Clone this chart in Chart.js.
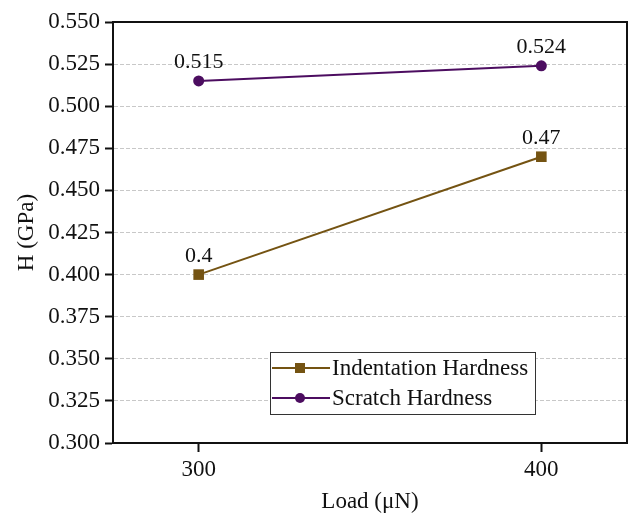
<!DOCTYPE html>
<html>
<head>
<meta charset="utf-8">
<script src="https://cdn.jsdelivr.net/npm/chart.js@4"></script>
<style>
  html, body { margin: 0; padding: 0; background: #fff; }
  #wrap { width: 631px; height: 516px; }
</style>
</head>
<body>
<div id="wrap"><canvas id="myChart" width="631" height="516"></canvas></div>
<script>
// data
var loads = [300, 400];
var indentation = [0.4, 0.47];
var scratch = [0.515, 0.524];
var xTicks = [300, 400];

var brown = '#745312';
var purple = '#4c0d60';
var serif = "'Liberation Serif', 'Times New Roman', serif";

function pts(ys) {
  return loads.map(function (x, i) { return { x: x, y: ys[i] }; });
}

// value labels above the points + frame + legend box
var extras = {
  id: 'extras',
  afterDatasetsDraw: function (chart) {
    var ctx = chart.ctx;
    var a = chart.chartArea;
    ctx.save();
    ctx.fillStyle = '#111';
    ctx.font = '22px ' + serif;
    ctx.textAlign = 'center';
    ctx.textBaseline = 'alphabetic';
    chart.data.datasets.forEach(function (ds, di) {
      chart.getDatasetMeta(di).data.forEach(function (el, i) {
        ctx.fillText(String(ds.data[i].y), el.x, el.y - 13);
      });
    });

    // frame top/right
    ctx.strokeStyle = '#111';
    ctx.lineWidth = 2;
    ctx.beginPath();
    ctx.moveTo(a.left, a.top);
    ctx.lineTo(a.right, a.top);
    ctx.lineTo(a.right, a.bottom);
    ctx.stroke();

    // legend
    var lx = a.left + 157, ly = a.top + 330, lw = 265, lh = 62;
    ctx.fillStyle = '#fff';
    ctx.fillRect(lx, ly, lw, lh);
    ctx.lineWidth = 1;
    ctx.strokeStyle = '#333';
    ctx.strokeRect(lx + 0.5, ly + 0.5, lw, lh);
    chart.data.datasets.forEach(function (ds, di) {
      var cy = ly + 16 + di * 30;
      ctx.strokeStyle = ds.borderColor;
      ctx.lineWidth = 2;
      ctx.beginPath();
      ctx.moveTo(lx + 2, cy);
      ctx.lineTo(lx + 60, cy);
      ctx.stroke();
      ctx.fillStyle = ds.backgroundColor;
      if (ds.pointStyle === 'rect') {
        ctx.fillRect(lx + 25, cy - 5, 10, 10);
      } else {
        ctx.beginPath();
        ctx.arc(lx + 30, cy, 5, 0, Math.PI * 2);
        ctx.fill();
      }
      ctx.fillStyle = '#111';
      ctx.font = '23px ' + serif;
      ctx.textAlign = 'left';
      ctx.textBaseline = 'middle';
      ctx.fillText(ds.label, lx + 62, cy + 1);
    });
    ctx.restore();
  }
};

new Chart(document.getElementById('myChart'), {
  type: 'line',
  data: {
    datasets: [
      {
        label: 'Indentation Hardness',
        data: pts(indentation),
        borderColor: brown,
        backgroundColor: brown,
        borderWidth: 2,
        pointStyle: 'rect',
        pointRadius: 7.5,
        pointBorderWidth: 0
      },
      {
        label: 'Scratch Hardness',
        data: pts(scratch),
        borderColor: purple,
        backgroundColor: purple,
        borderWidth: 2,
        pointStyle: 'circle',
        pointRadius: 5.5,
        pointBorderWidth: 0
      }
    ]
  },
  options: {
    responsive: false,
    animation: false,
    layout: { padding: { top: 22, right: 4, left: 0, bottom: 0 }, autoPadding: false },
    plugins: {
      legend: { display: false },
      tooltip: { enabled: false }
    },
    scales: {
      x: {
        type: 'linear',
        min: 275,
        max: 425,
        afterBuildTicks: function (s) {
          s.ticks = xTicks.map(function (v) { return { value: v }; });
        },
        afterFit: function (s) { s.height = 73; s.paddingLeft = 0; s.paddingRight = 0; },
        grid: {
          drawOnChartArea: false,
          drawTicks: true,
          tickLength: 9,
          tickColor: '#111',
          tickWidth: 2
        },
        border: { color: '#111', width: 2 },
        ticks: {
          color: '#111',
          font: { family: serif, size: 23 },
          padding: 4
        },
        title: {
          display: true,
          text: 'Load (\u03bcN)',
          color: '#111',
          font: { family: serif, size: 23 },
          padding: { top: 0, bottom: 0 }
        }
      },
      y: {
        min: 0.3,
        max: 0.55,
        afterBuildTicks: function (s) {
          var t = [];
          for (var i = 0; i <= 10; i++) t.push({ value: +(0.3 + i * 0.025).toFixed(3) });
          s.ticks = t;
        },
        afterFit: function (s) { s.width = 113; s.paddingTop = 0; s.paddingBottom = 0; },
        grid: {
          color: '#c8c8c8',
          lineWidth: 1,
          drawTicks: true,
          tickLength: 8,
          tickColor: '#111',
          tickWidth: 2
        },
        border: { color: '#111', width: 2, dash: [4, 2] },
        ticks: {
          color: '#111',
          font: { family: serif, size: 23 },
          padding: 5,
          callback: function (v) { return Number(v).toFixed(3); }
        },
        title: {
          display: true,
          text: 'H (GPa)',
          color: '#111',
          font: { family: serif, size: 23 },
          padding: { top: 13, bottom: 0 }
        }
      }
    }
  },
  plugins: [extras]
});
</script>
</body>
</html>
